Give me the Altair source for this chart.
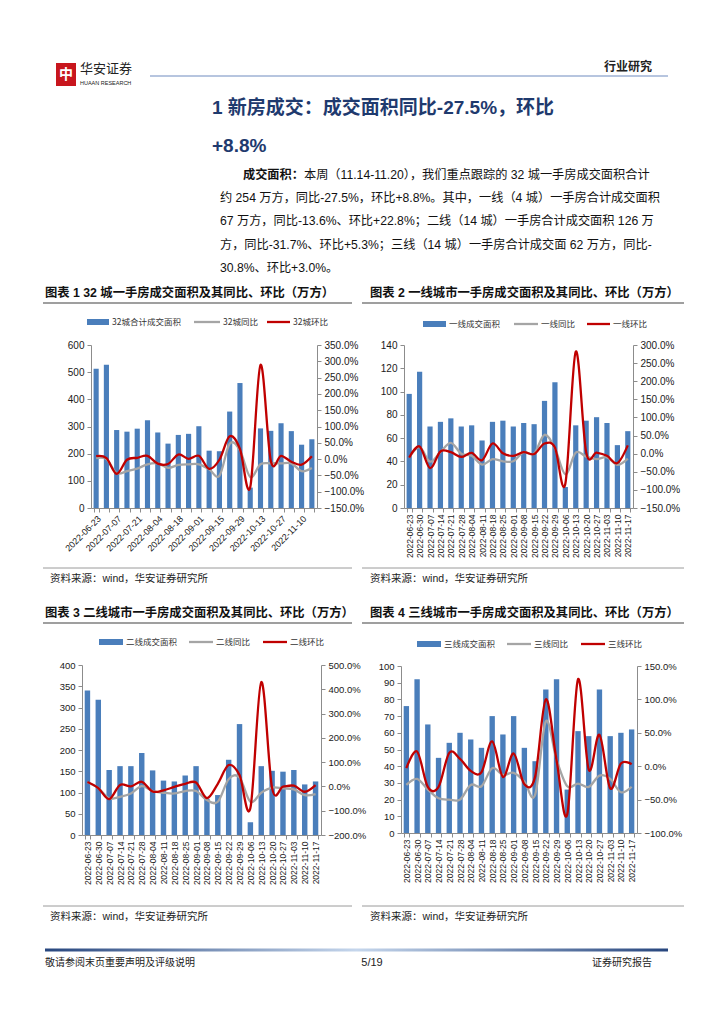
import json
import altair as alt
import pandas as pd

W, H = 708, 1008

dates = ["2022-06-23", "2022-06-30", "2022-07-07", "2022-07-14", "2022-07-21", "2022-07-28",
         "2022-08-04", "2022-08-11", "2022-08-18", "2022-08-25", "2022-09-01", "2022-09-08",
         "2022-09-15", "2022-09-22", "2022-09-29", "2022-10-06", "2022-10-13", "2022-10-20",
         "2022-10-27", "2022-11-03", "2022-11-10", "2022-11-17"]

# 32 cities
c32_area = [513, 527, 287, 281, 292, 323, 278, 237, 269, 273, 301, 211, 209, 355, 460, 75, 293, 284, 312, 283, 233, 253]
c32_yoy = [3, 0, -43, -37, -29, -16, -13, -27, -18, -16, -16, -31, -51, 47, 27, -55, -16, -13, -13, -13, -37, -27.5]
c32_mom = [9, 3, -45, -2, 4, 10, -14, -15, 14, 1, 10, -30, -2, 70, 31, -86, 289, -5, 10, -8, -17, 8.8]

# tier 1
t1_area = [98, 117, 70, 74, 77, 70, 71, 58, 74, 75, 70, 73, 72, 92, 108, 18, 71, 75, 78, 73, 54, 66]
t1_yoy = [-11, 18, -22, 4, 30, 0, -6, -30, -15, -21, -21, 4, 0, 52, 15, -57, 3, -8, -15, -10, -31, -13.6]
t1_mom = [-11, 20, -40, 6, 4, -9, 2, -18, 28, 1, -6, 4, -1, 28, 17, -83, 282, 4, 3, -6, -26, 22.8]

# tier 2
t2_area = [340, 318, 153, 162, 162, 193, 152, 128, 126, 140, 162, 85, 94, 177, 261, 30, 162, 151, 149, 153, 119, 126]
t2_yoy = [17, -7, -49, -43, -29, 1, -19, -26, -29, -19, -19, -56, -63, 30, 37, -63, -26, -5, -8, -12, -36, -31.7]
t2_mom = [18, -7, -52, 6, 0, 19, -21, -16, -2, 11, 16, -48, 11, 88, 47, -89, 430, -7, -1, 3, -22, 5.3]

# tier 3
t3_area = [76, 92, 65, 45, 54, 60, 56, 51, 70, 59, 70, 51, 43, 86, 92, 26, 61, 58, 86, 58, 60, 62]
t3_yoy = [-28, -19, -35, -48, -50, -50, -28, -30, -3, -13, -10, -23, -43, 67, 10, -30, -26, -31, -14, -19, -39, -30.8]
t3_mom = [-3, 22, -31, -31, 20, 11, -7, -9, 37, -16, 19, -27, -16, 100, 9, -72, 130, -5, 47, -33, 4, 3.0]

BLUE = "#4A7EBB"
GRAY = "#A5A5A5"
RED = "#C00000"
AXC = "#8C8C8C"
NAVY = "#1F3A6E"
MIX = "Liberation Sans, Noto Sans CJK SC"
CJK = "Noto Sans CJK SC"

ONE = pd.DataFrame({"k": [0]})
layers = []


def txt(s, x, y, size, color="#111111", bold=False, align="left", font=MIX):
    layers.append(alt.Chart(ONE).mark_text(
        text=s, fontSize=size, font=font, color=color,
        fontWeight="bold" if bold else "normal", align=align, baseline="middle"
    ).encode(x=alt.value(x - 8), y=alt.value(y - 8)))


def rect(x0, x1, y0, y1, color):
    layers.append(alt.Chart(ONE).mark_rect(color=color).encode(
        x=alt.value(x0 - 8), x2=alt.value(x1 - 8), y=alt.value(y0 - 8), y2=alt.value(y1 - 8)))


def hline(x0, x1, y, color, w=1.0):
    layers.append(alt.Chart(ONE).mark_rule(color=color, strokeWidth=w).encode(
        x=alt.value(x0 - 8), x2=alt.value(x1 - 8), y=alt.value(y - 8)))


def combo(area, yoy, mom, px, py, ldom, lstep, rdom, rstep, hide, xangle, fsy, fsx):
    x0, x1 = px[0] - 8, px[1] - 8
    y0, y1 = py[0] - 8, py[1] - 8
    bdf = pd.DataFrame({"date": dates, "area": area})
    gdf = pd.DataFrame({"date": dates, "pct": [v / 100 for v in yoy]})
    rdf = pd.DataFrame({"date": dates, "pct": [v / 100 for v in mom]})
    lvals = list(range(ldom[0], ldom[1] + 1, lstep))
    rvals = [v / 100 for v in range(rdom[0], rdom[1] + 1, rstep)]
    common = dict(domainColor=AXC, tickColor=AXC, tickSize=4, labelColor="#1a1a1a",
                  labelFont="Liberation Sans", grid=False, domainWidth=1, tickWidth=1)
    label_expr = "indexof(" + json.dumps(hide) + ", datum.label) >= 0 ? '' : datum.label"
    xaxis = alt.Axis(orient="bottom", offset=y1 - H, labelAngle=xangle, tickBand="extent",
                     labelFontSize=fsx, labelPadding=2, labelOverlap=False, labelLimit=200,
                     labelExpr=label_expr, **common)
    bars = alt.Chart(bdf).mark_bar(color=BLUE).encode(
        x=alt.X("date:N", title=None,
                scale=alt.Scale(type="band", domain=dates, range=[x0, x1],
                                paddingInner=0.5, paddingOuter=0.25),
                axis=xaxis),
        y=alt.Y("area:Q", title=None,
                scale=alt.Scale(domain=ldom, range=[y1, y0], nice=False, zero=True),
                axis=alt.Axis(orient="left", offset=-x0, values=lvals, labelFontSize=fsy,
                              labelPadding=3, **common)))
    xp = alt.Scale(type="point", domain=dates, range=[x0, x1], padding=0.5)
    ysc = dict(domain=[rdom[0] / 100, rdom[1] / 100], range=[y1, y0], nice=False, zero=False)
    gray = alt.Chart(gdf).mark_line(interpolate="cardinal", strokeWidth=2.3, color=GRAY).encode(
        x=alt.X("date:N", scale=xp, axis=None),
        y=alt.Y("pct:Q", scale=alt.Scale(**ysc), axis=None))
    red = alt.Chart(rdf).mark_line(interpolate="cardinal", strokeWidth=2.3, color=RED).encode(
        x=alt.X("date:N", scale=xp, axis=None),
        y=alt.Y("pct:Q", title=None, scale=alt.Scale(**ysc),
                axis=alt.Axis(orient="right", offset=x1 - W, values=rvals, format=".1%",
                              labelFontSize=fsy, labelPadding=3, **common)))
    layers.extend([bars, gray, red])


def legend(y, bx, bt, bname, gx, gt, gname, rx, rt, rname):
    rect(bx[0], bx[1], y - 3, y + 3, BLUE)
    txt(bname, bt, y, 8.5, "#333333", font=CJK)
    hline(gx[0], gx[1], y, GRAY, 2.3)
    txt(gname, gt, y, 8.5, "#333333", font=CJK)
    hline(rx[0], rx[1], y, RED, 2.3)
    txt(rname, rt, y, 8.5, "#333333", font=CJK)


# ---- header ----
rect(56, 76, 63, 86, "#C8161D")
txt("中", 66, 74.5, 14, "#FFFFFF", bold=True, align="center", font=CJK)
txt("华安证券", 80, 69, 13, "#222222", font=CJK)
txt("HUAAN RESEARCH", 80, 83, 5.5, "#222222", font="Liberation Sans")
hline(150, 668, 76, "#6E8BBF", 1)
txt("行业研究", 652, 67, 12, "#222222", bold=True, align="right", font=CJK)

# ---- section title ----
txt("1 新房成交：成交面积同比-27.5%，环比", 212, 108, 19, NAVY, bold=True)
txt("+8.8%", 212, 146, 19, NAVY, bold=True)

# ---- paragraph ----
txt("成交面积：", 243, 175, 12.2, "#111111", bold=True)
txt("本周（11.14-11.20），我们重点跟踪的 32 城一手房成交面积合计", 304, 175, 12.2)
txt("约 254 万方，同比-27.5%，环比+8.8%。其中，一线（4 城）一手房合计成交面积", 220, 198, 12.2)
txt("67 万方，同比-13.6%、环比+22.8%；二线（14 城）一手房合计成交面积 126 万", 220, 221, 12.2)
txt("方，同比-31.7%、环比+5.3%；三线（14 城）一手房合计成交面 62 万方，同比-", 220, 245, 12.2)
txt("30.8%、环比+3.0%。", 220, 268, 12.2)

# ---- chart titles and rules ----
txt("图表 1 32 城一手房成交面积及其同比、环比（万方）", 45, 293, 12.3, "#111111", bold=True)
txt("图表 2 一线城市一手房成交面积及其同比、环比（万方）", 370, 293, 12.3, "#111111", bold=True)
hline(43, 352, 303, "#404040", 1.2)
hline(362, 684, 303, "#404040", 1.2)
hline(43, 352, 568, "#9A9A9A", 1)
hline(362, 684, 568, "#9A9A9A", 1)
txt("资料来源：wind，华安证券研究所", 50, 579, 10.5, "#222222")
txt("资料来源：wind，华安证券研究所", 370, 579, 10.5, "#222222")

txt("图表 3 二线城市一手房成交面积及其同比、环比（万方）", 45, 613, 12.3, "#111111", bold=True)
txt("图表 4 三线城市一手房成交面积及其同比、环比（万方）", 370, 613, 12.3, "#111111", bold=True)
hline(43, 352, 623, "#404040", 1.2)
hline(362, 684, 623, "#404040", 1.2)
hline(43, 352, 906, "#9A9A9A", 1)
hline(362, 684, 906, "#9A9A9A", 1)
txt("资料来源：wind，华安证券研究所", 50, 917, 10.5, "#222222")
txt("资料来源：wind，华安证券研究所", 370, 917, 10.5, "#222222")

# ---- legends ----
legend(322, (87, 109), 112, "32城合计成交面积", (194, 220), 223, "32城同比", (267, 290), 293, "32城环比")
legend(324, (423, 446), 449, "一线成交面积", (514, 538), 541, "一线同比", (587, 610), 613, "一线环比")
legend(642, (99, 123), 126, "二线成交面积", (189, 213), 216, "二线同比", (263, 287), 290, "二线环比")
legend(644, (417, 441), 444, "三线成交面积", (507, 531), 534, "三线同比", (581, 605), 608, "三线环比")

# ---- charts ----
combo(c32_area, c32_yoy, c32_mom, (91, 317), (345, 508), [0, 600], 100, [-150, 350], 50,
      dates[1::2], -45, 10, 9)
combo(t1_area, t1_yoy, t1_mom, (404, 633), (345, 508), [0, 140], 20, [-150, 300], 50,
      [], -90, 10, 8.5)
combo(t2_area, t2_yoy, t2_mom, (82, 321), (665, 835), [0, 400], 50, [-200, 500], 100,
      [], -90, 9.5, 8.5)
combo(t3_area, t3_yoy, t3_mom, (401, 637), (666, 833), [0, 100], 10, [-100, 150], 50,
      [], -90, 9.5, 8.5)

# ---- footer ----
grad = alt.Gradient(gradient="linear", x1=0, x2=1, y1=0, y2=0,
                    stops=[alt.GradientStop(color="#27467E", offset=0),
                           alt.GradientStop(color="#C5D6EC", offset=0.5),
                           alt.GradientStop(color="#27467E", offset=1)])
layers.append(alt.Chart(ONE).mark_rect(color=grad).encode(
    x=alt.value(45 - 8), x2=alt.value(668 - 8), y=alt.value(948.5 - 8), y2=alt.value(951.5 - 8)))
txt("敬请参阅末页重要声明及评级说明", 45, 963, 10, "#222222", font=CJK)
txt("5/19", 372, 963, 11, "#222222", align="center", font="Liberation Sans")
txt("证券研究报告", 652, 963, 10, "#222222", align="right", font=CJK)

chart = alt.layer(*layers).resolve_scale(
    x="independent", y="independent"
).resolve_axis(
    x="independent", y="independent"
).properties(
    width=W, height=H, autosize="none", padding=0, background="#FFFFFF"
).configure_view(strokeWidth=0)

chart.save("out.html", embed_options={"renderer": "svg", "actions": False})
